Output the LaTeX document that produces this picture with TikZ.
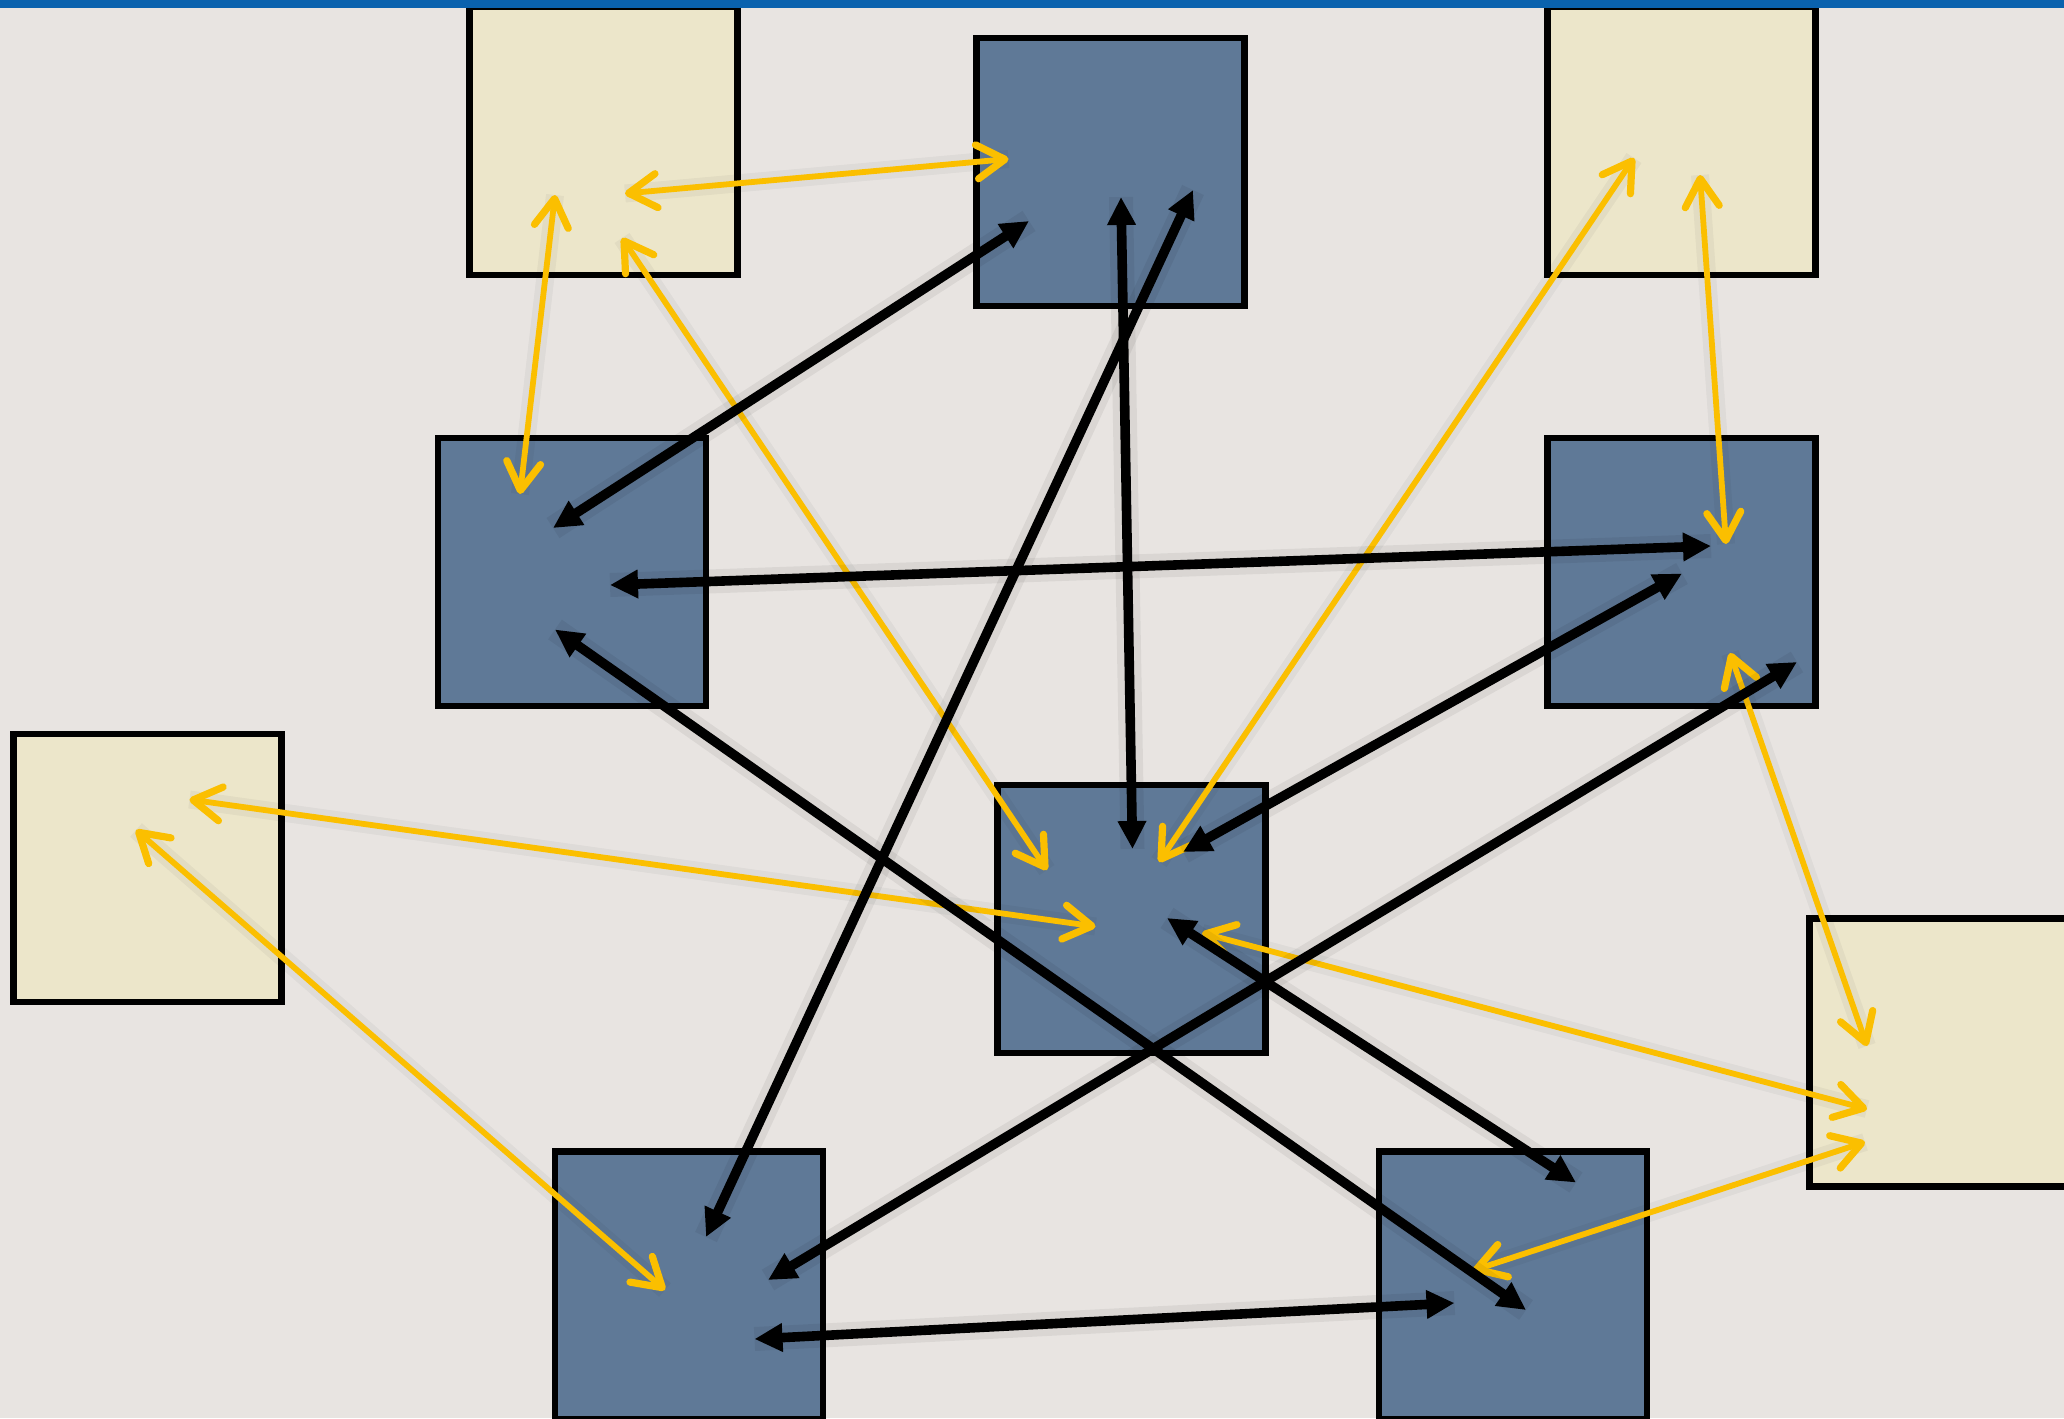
\documentclass[tikz,border=0pt]{standalone}
\usetikzlibrary{arrows.meta,calc}
\definecolor{bg}{HTML}{E8E4E1}
\definecolor{topbar}{HTML}{0A62AE}
\definecolor{beige}{HTML}{ECE6CA}
\definecolor{slate}{HTML}{5F7997}
\definecolor{gold}{HTML}{FBBF00}
\begin{document}
\begin{tikzpicture}[x=0.5pt,y=-0.5pt,
  boxbase/.style={draw=black, line width=3.2pt, minimum width=134pt, minimum height=134pt, inner sep=0pt, outer sep=0pt},
  paper/.style={boxbase, fill=beige},
  stone/.style={boxbase, fill=slate},
  blk/.style={draw=black, line width=4.8pt,
    preaction={-, draw=black, draw opacity=0.06, line width=12pt},
    {Triangle[length=14pt,width=13.5pt]}-{Triangle[length=14pt,width=13.5pt]}},
  ylw/.style={draw=gold, line width=2.9pt, line cap=round,
    preaction={-, draw=black, draw opacity=0.04, line width=9pt},
    {Straight Barb[length=14pt,width=17pt,round,line width=3.6pt]}-{Straight Barb[length=14pt,width=17pt,round,line width=3.6pt]}}]
\useasboundingbox (0,0) rectangle (2064,1418);
\clip (0,0) rectangle (2064,1418);
\fill[bg] (0,0) rectangle (2064,1418);
% boxes
\node[paper] (Y1) at (603.5,141) {};
\node[paper] (Y2) at (1681.5,141) {};
\node[paper] (Y3) at (147.5,868) {};
\node[paper] (Y4) at (1943.5,1052.5) {};
\node[stone] (A) at (1110.5,172) {};
\node[stone] (B) at (572,572) {};
\node[stone] (C) at (1681.5,572) {};
\node[stone] (D) at (1131.5,919) {};
\node[stone] (E) at (689,1285.5) {};
\node[stone] (F) at (1513,1285.5) {};
% yellow connectors
\draw[ylw] ([shift={(21.5,52.5)}]Y1.center) -- ([shift={(-102,-13)}]A.center);
\draw[ylw] ([shift={(-48.5,54)}]Y1.center) -- ([shift={(-52,-78)}]B.center);
\draw[ylw] ([shift={(18.5,97)}]Y1.center) -- ([shift={(-84.5,-49)}]D.center);
\draw[ylw] ([shift={(-47.5,17)}]Y2.center) -- ([shift={(27.5,-57)}]D.center);
\draw[ylw] ([shift={(18.5,34)}]Y2.center) -- ([shift={(44.5,-28)}]C.center);
\draw[ylw] ([shift={(42,-68.5)}]Y3.center) -- ([shift={(-36,7.5)}]D.center);
\draw[ylw] ([shift={(-11.5,-38)}]Y3.center) -- ([shift={(-24,4.5)}]E.center);
\draw[ylw] ([shift={(48.5,81)}]C.center) -- ([shift={(-76.5,-6.5)}]Y4.center);
\draw[ylw] ([shift={(70.5,14)}]D.center) -- ([shift={(-76.5,56.5)}]Y4.center);
\draw[ylw] ([shift={(-40,-15)}]F.center) -- ([shift={(-78.5,89.5)}]Y4.center);
% black connectors
\draw[blk] ([shift={(-81.5,49)}]A.center) -- ([shift={(-19,-44)}]B.center);
\draw[blk] ([shift={(10.5,25)}]A.center) -- ([shift={(1,-70)}]D.center);
\draw[blk] ([shift={(82.5,18)}]A.center) -- ([shift={(17,-48.5)}]E.center);
\draw[blk] ([shift={(38,13)}]B.center) -- ([shift={(29.5,-26)}]C.center);
\draw[blk] ([shift={(-17,57.5)}]B.center) -- ([shift={(13,24.5)}]F.center);
\draw[blk] ([shift={(0.5,1.5)}]C.center) -- ([shift={(51.5,-67)}]D.center);
\draw[blk] ([shift={(115.5,90)}]C.center) -- ([shift={(79,-5.5)}]E.center);
\draw[blk] ([shift={(35.5,-1)}]D.center) -- ([shift={(63,-103)}]F.center);
\draw[blk] ([shift={(65.5,53.5)}]E.center) -- ([shift={(-58.5,17.5)}]F.center);
% top bar
\fill[topbar] (0,0) rectangle (2064,8);
\end{tikzpicture}
\end{document}
